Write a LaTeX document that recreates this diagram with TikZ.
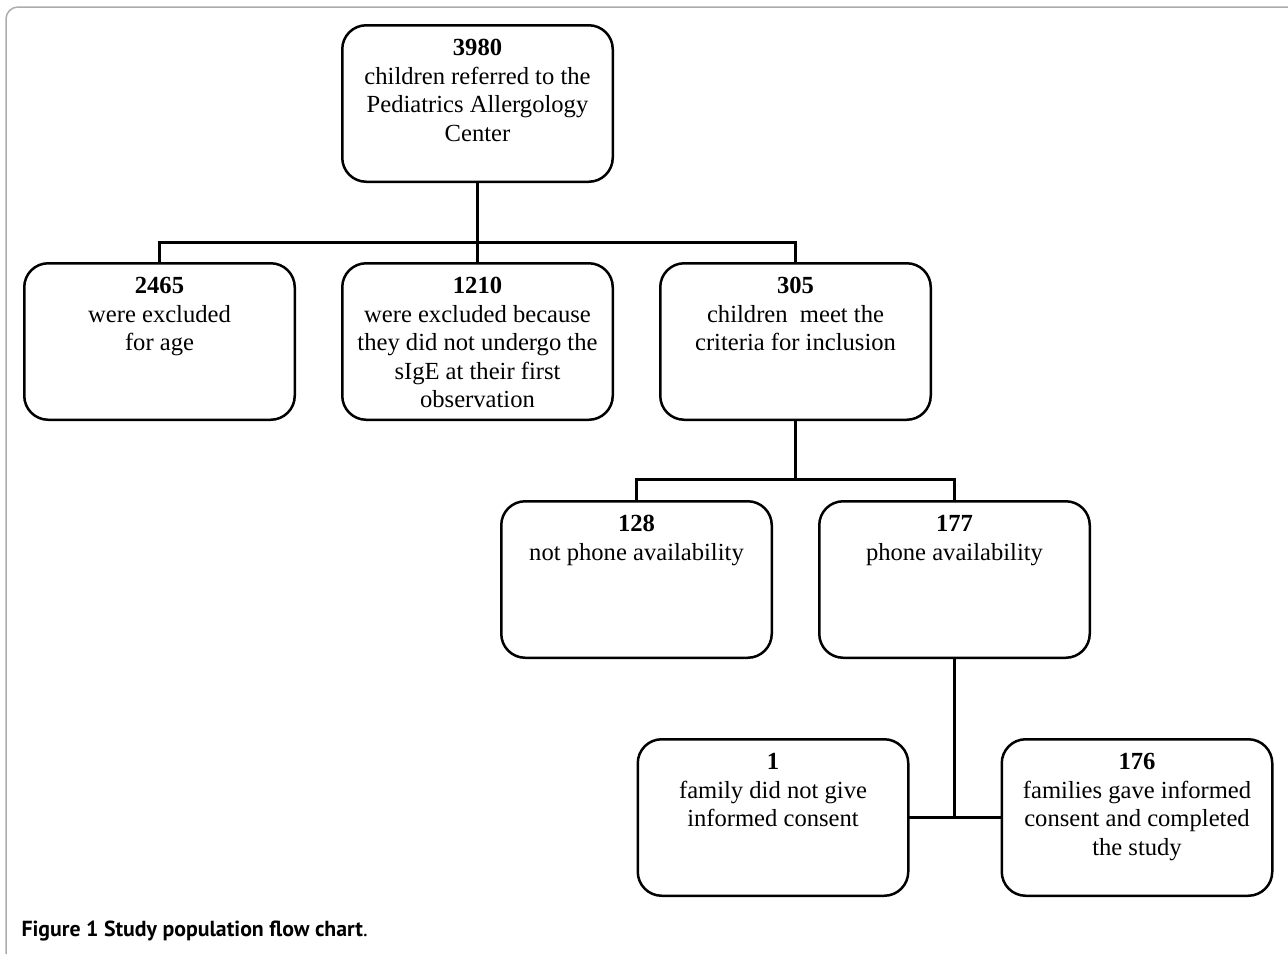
\documentclass[tikz,border=0pt]{standalone}
\usepackage{fontspec}
\setmainfont{Liberation Serif}
\newfontfamily\captionfont{PT Sans}
\usetikzlibrary{positioning}

\tikzset{
  stage/.style={draw, line width=2.5pt, rounded corners=24pt, outer sep=0pt,
    minimum width=270.5pt, minimum height=156.5pt,
    inner xsep=2.75pt, inner ysep=10.75pt,
    font=\fontsize{24.6pt}{28.5pt}\selectfont},
  link/.style={line width=2.5pt},
  frame/.style={draw=gray!65, line width=1.5pt, rounded corners=12pt}
}
\newcommand{\stagetext}[2]{\parbox[t][135pt][t]{265pt}{\centering\strut\textbf{#1}\\#2}}

\begin{document}
\begin{tikzpicture}[x=1pt, y=1pt]

  \useasboundingbox (0,0) rectangle (1288,-954);
  \draw[frame] (6,-954) -- (6,-7) -- (1288,-7);

  \node[stage] (top) at (477.5,-103.5)
    {\stagetext{3980}{children referred to the\\Pediatrics Allergology\\Center}};

  \node[stage] (n1210) [below = 81.5pt of top]
    {\stagetext{1210}{were excluded because\\they did not undergo the\\sIgE at their first\\observation}};
  \node[stage] (n2465) [left = 47.5pt of n1210]
    {\stagetext{2465}{were excluded\\for age}};
  \node[stage] (n305) [right = 47.5pt of n1210]
    {\stagetext{305}{children\ \ meet the\\criteria for inclusion}};

  \node[stage] (n128) [below = 81.5pt of n305, xshift=-159pt]
    {\stagetext{128}{not phone availability}};
  \node[stage] (n177) [right = 47.5pt of n128]
    {\stagetext{177}{phone availability}};

  \node[stage] (n1) [below = 81.5pt of n177, xshift=-181.5pt]
    {\stagetext{1}{family did not give\\informed consent}};
  \node[stage] (n176) [right = 93.5pt of n1]
    {\stagetext{176}{families gave informed\\consent and completed\\the study}};

  % connectors
  \draw[link] (top) -- (n1210);
  \draw[link] (n2465.north) -- ++(0,21pt) -| (n305.north);

  \draw[link] (n128.north) -- ++(0,22pt) coordinate (split2) -| (n177.north);
  \draw[link] (n305.south) -- (n305.south |- split2);

  \draw[link] (n1.east) -- (n176.west);
  \draw[link] (n177.south) -- (n177.south |- n1.east);

  \node[anchor=base west, font=\captionfont\fontsize{21.8pt}{25pt}\selectfont] (caption)
    at (18,-936) {\textbf{Figure 1 Study population flow chart}.};

\end{tikzpicture}
\end{document}
